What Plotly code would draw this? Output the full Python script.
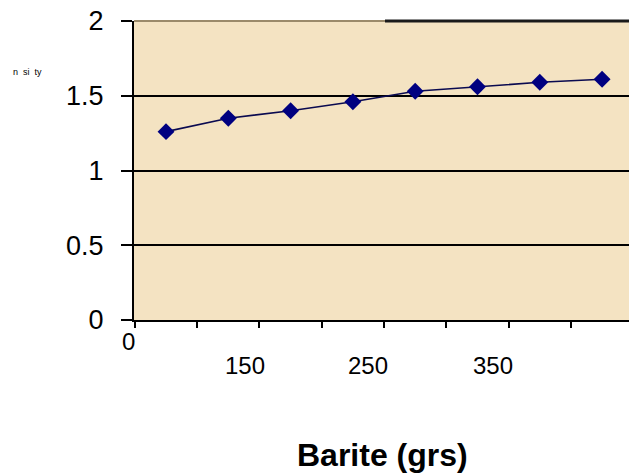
import plotly.graph_objects as go

barite = [50, 100, 150, 200, 250, 300, 350, 400]
density = [1.26, 1.35, 1.40, 1.46, 1.53, 1.56, 1.59, 1.61]
y_ticks = [0, 0.5, 1, 1.5, 2]
y_tick_text = ["0", "0.5", "1", "1.5", "2"]
x_tick_marks = [25, 75, 125, 175, 225, 275, 325, 375]
x_label_text = ["0", "150", "250", "350"]

# layout-only positions (paper coords) of the odd x labels
x_label_paper = [-0.012, 0.224, 0.473, 0.725]
x_label_shift = [-21, -45, -45, -45]

fig = go.Figure()
fig.add_trace(go.Scatter(
    x=barite, y=density, mode="lines+markers",
    line=dict(color="#0a0a50", width=1.6),
    marker=dict(symbol="diamond", size=13, color="#000080"),
    showlegend=False, hoverinfo="skip",
))

fig.update_layout(
    width=629, height=476,
    margin=dict(l=134, r=0, t=21, b=156),
    paper_bgcolor="white",
    plot_bgcolor="#F4E3C2",
    font=dict(family="Liberation Sans, Arial", color="black"),
    xaxis=dict(
        range=[24.3, 421.6], showgrid=False, zeroline=False,
        tickvals=x_tick_marks, ticktext=[""] * len(x_tick_marks),
        ticks="outside", ticklen=6, tickwidth=2, tickcolor="black",
        showline=True, linecolor="black", linewidth=2,
    ),
    yaxis=dict(
        range=[0, 2.0001], tickvals=y_ticks, ticktext=y_tick_text,
        ticks="outside", ticklen=11, tickwidth=2, tickcolor="black",
        tickfont=dict(size=27), ticklabelstandoff=12,
        showgrid=True, gridcolor="black", gridwidth=2,
        zeroline=False, showline=True, linecolor="black", linewidth=2,
    ),
)

for t, p, s in zip(x_label_text, x_label_paper, x_label_shift):
    fig.add_annotation(
        x=p, y=0, xref="paper", yref="paper", text=t, showarrow=False,
        xanchor="center", yanchor="middle",
        yshift=s, font=dict(size=24),
    )

fig.add_annotation(
    x=0.503, y=-0.45, xref="paper", yref="paper", text="<b>Barite (grs)</b>",
    showarrow=False, xanchor="center", yanchor="middle", font=dict(size=32),
)
fig.add_annotation(
    x=-0.216, y=0.829, xref="paper", yref="paper", text="n  si  ty",
    showarrow=False, xanchor="center", yanchor="middle", font=dict(size=9),
)

fig.add_shape(type="line", xref="paper", yref="paper", x0=0, x1=0.507, y0=1, y1=1,
              line=dict(color="#9b8a6a", width=2))
fig.add_shape(type="line", xref="paper", yref="paper", x0=0.507, x1=1, y0=1, y1=1,
              line=dict(color="#1a1a1a", width=3))

fig.write_html(
    "out.html",
    config={"displayModeBar": False},
    post_script="document.body.style.margin='0';document.body.style.overflow='hidden';",
)
